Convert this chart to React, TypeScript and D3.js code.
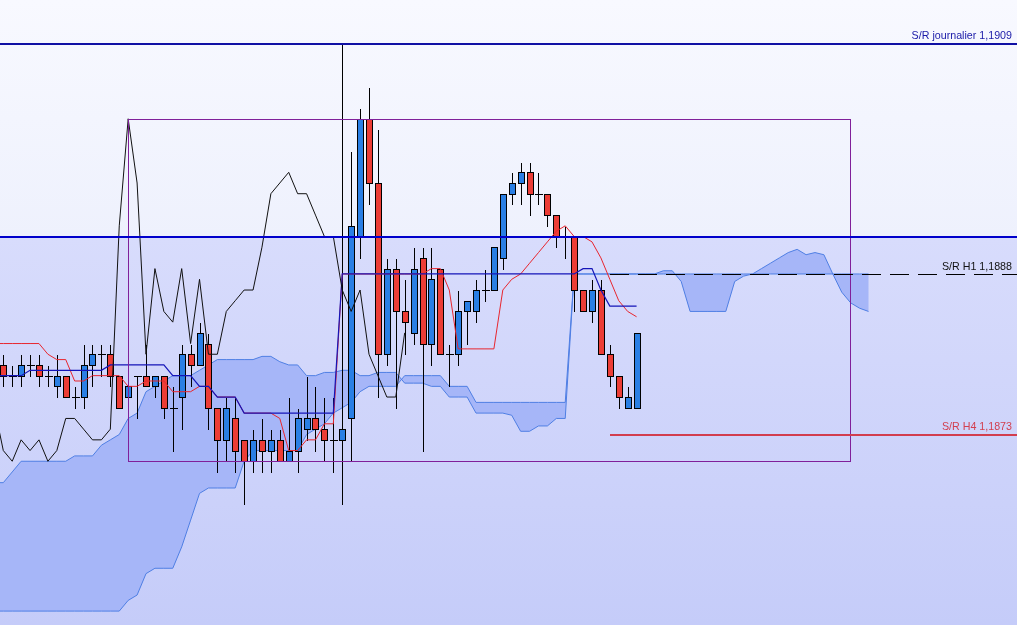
import { useMemo } from "react";
import * as d3 from "d3";

const W = 1017;
const H = 625;

// candles, bar 0..71
const opens = [
  1.1879, 1.1878, 1.1878, 1.1879, 1.1879, 1.1878, 1.1877, 1.1878, 1.1876, 1.1876,
  1.1879, 1.188, 1.188, 1.1878, 1.1876, 1.1878, 1.1878, 1.1877, 1.1878, 1.1875,
  1.1876, 1.188, 1.1879, 1.1881, 1.1875, 1.1872, 1.1874, 1.1872, 1.187, 1.1872,
  1.1871, 1.1872, 1.187, 1.1871, 1.1873, 1.1874, 1.1873, 1.1872, 1.1872, 1.1874,
  1.1891, 1.1902, 1.1896, 1.188, 1.1888, 1.1884, 1.1882, 1.1889, 1.1881, 1.1888,
  1.188, 1.188, 1.1884, 1.1884, 1.1886, 1.1886, 1.1889, 1.1895, 1.1896, 1.1897,
  1.1895, 1.1895, 1.1893, 1.1891, 1.1891, 1.1886, 1.1884, 1.1886, 1.188, 1.1878,
  1.1875, 1.1875,
];
const highs = [
  1.188, 1.1879, 1.188, 1.188, 1.188, 1.1879, 1.188, 1.1878, 1.1877, 1.1881,
  1.1881, 1.1881, 1.1881, 1.1878, 1.1877, 1.1878, 1.1881, 1.1878, 1.1878, 1.1877,
  1.1881, 1.1881, 1.1883, 1.1882, 1.1875, 1.1876, 1.1876, 1.1872, 1.1873, 1.1874,
  1.1873, 1.1873, 1.1876, 1.1875, 1.1878, 1.1877, 1.1876, 1.1876, 1.1909, 1.1899,
  1.1903, 1.1905, 1.1901, 1.1889, 1.1889, 1.1887, 1.189, 1.189, 1.189, 1.1888,
  1.1881, 1.1886, 1.1885, 1.1887, 1.1888, 1.189, 1.1895, 1.1897, 1.1898, 1.1898,
  1.1897, 1.1895, 1.1893, 1.1892, 1.1891, 1.1886, 1.1887, 1.1887, 1.1881, 1.1878,
  1.1877, 1.1882,
];
const lows = [
  1.1877, 1.1877, 1.1877, 1.1878, 1.1877, 1.1877, 1.1876, 1.1876, 1.1875, 1.1875,
  1.1877, 1.1878, 1.1877, 1.1875, 1.1876, 1.1874, 1.1877, 1.1876, 1.1874, 1.1871,
  1.1873, 1.1877, 1.1879, 1.1873, 1.1869, 1.187, 1.1869, 1.1866, 1.1869, 1.1869,
  1.1869, 1.187, 1.187, 1.1869, 1.1872, 1.1871, 1.187, 1.1869, 1.1866, 1.187,
  1.1889, 1.1894, 1.1876, 1.1879, 1.1875, 1.188, 1.1881, 1.1871, 1.1879, 1.188,
  1.1877, 1.1879, 1.1881, 1.1883, 1.1885, 1.1886, 1.1888, 1.1894, 1.1894, 1.1893,
  1.1894, 1.1892, 1.189, 1.1889, 1.1884, 1.1884, 1.1883, 1.188, 1.1877, 1.1875,
  1.1875, 1.1875,
];
const closes = [
  1.1878, 1.1878, 1.1879, 1.1879, 1.1878, 1.1878, 1.1878, 1.1876, 1.1876, 1.1879,
  1.188, 1.188, 1.1878, 1.1875, 1.1877, 1.1878, 1.1877, 1.1878, 1.1875, 1.1875,
  1.188, 1.1879, 1.1882, 1.1875, 1.1872, 1.1875, 1.1871, 1.187, 1.1872, 1.1871,
  1.1872, 1.187, 1.1871, 1.1874, 1.1874, 1.1873, 1.1872, 1.1872, 1.1873, 1.1892,
  1.1902, 1.1896, 1.188, 1.1888, 1.1884, 1.1883, 1.1888, 1.1881, 1.1887, 1.188,
  1.188, 1.1884, 1.1885, 1.1886, 1.1886, 1.189, 1.1895, 1.1896, 1.1897, 1.1895,
  1.1895, 1.1893, 1.1891, 1.1891, 1.1886, 1.1884, 1.1886, 1.188, 1.1878, 1.1876,
  1.1876, 1.1882,
];

// ichimoku lines; first value sits at bar -1 (left edge)
const lineStart = -1;
const tenkan = [
  1.1881,
  1.1881, 1.1881, 1.1881, 1.1881, 1.1881, 1.188, 1.18795, 1.18795, 1.18775, 1.18775,
  1.1878, 1.1878, 1.1878, 1.1878, 1.1877, 1.1877, 1.18775, 1.18775, 1.18775, 1.18765,
  1.18765, 1.18765, 1.1877, 1.1877, 1.1876, 1.1876, 1.1876, 1.18745, 1.18745, 1.18745,
  1.18745, 1.1874, 1.1871, 1.1871, 1.1872, 1.1872, 1.18735, 1.18735, 1.18875, 1.18875,
  1.18875, 1.18875, 1.18875, 1.18875, 1.18875, 1.18875, 1.18875, 1.18875, 1.1888, 1.1888,
  1.1886, 1.18805, 1.18805, 1.18805, 1.18805, 1.18805, 1.1886, 1.1887, 1.18875, 1.18885,
  1.18895, 1.18905, 1.18915, 1.1892, 1.1891, 1.1891, 1.18905, 1.1889, 1.1887, 1.1885,
  1.1884, 1.18835,
];
const kijun = [
  1.1878,
  1.1878, 1.1878, 1.1878, 1.18785, 1.18785, 1.18785, 1.18785, 1.18785, 1.18785, 1.18785,
  1.18785, 1.18785, 1.1879, 1.1879, 1.1879, 1.1879, 1.1879, 1.1879, 1.1879, 1.1878,
  1.1878, 1.1878, 1.1877, 1.1877, 1.1876, 1.1876, 1.1876, 1.18745, 1.18745, 1.18745,
  1.18745, 1.18745, 1.18745, 1.18745, 1.18745, 1.18745, 1.18745, 1.18745, 1.18875, 1.18875,
  1.18875, 1.18875, 1.18875, 1.18875, 1.18875, 1.18875, 1.18875, 1.18875, 1.18875, 1.18875,
  1.18875, 1.18875, 1.18875, 1.18875, 1.18875, 1.18875, 1.18875, 1.18875, 1.18875, 1.18875,
  1.18875, 1.18875, 1.18875, 1.18875, 1.18875, 1.1888, 1.1888, 1.1886, 1.18845, 1.18845,
  1.18845, 1.18845,
];
// cloud, bar -1..97 (runs 26 bars past the last candle)
const spanA = [
  1.1868,
  1.1868, 1.1869, 1.187, 1.187, 1.187, 1.187, 1.187, 1.187, 1.18705, 1.18705,
  1.18705, 1.18715, 1.1872, 1.18725, 1.1874, 1.18745, 1.18765, 1.1877, 1.18775, 1.1878,
  1.1878, 1.1878, 1.18785, 1.1879, 1.18795, 1.18795, 1.18795, 1.18795, 1.18795, 1.18798,
  1.18798, 1.18793, 1.1879, 1.1879, 1.1878, 1.1878, 1.18783, 1.18783, 1.18785, 1.18785,
  1.1878, 1.1878, 1.18783, 1.18783, 1.18783, 1.18773, 1.18773, 1.18773, 1.1877, 1.1877,
  1.1876, 1.1876, 1.1876, 1.18745, 1.18745, 1.18745, 1.18745, 1.18743, 1.18728, 1.18728,
  1.18733, 1.18733, 1.1874, 1.1874, 1.18875, 1.18875, 1.18875, 1.18875, 1.18875, 1.18875,
  1.18875, 1.18875, 1.18875, 1.18875, 1.18878, 1.18878, 1.18868, 1.1884, 1.1884, 1.1884,
  1.1884, 1.1884, 1.18868, 1.18873, 1.18875, 1.1888, 1.18885, 1.1889, 1.18895, 1.18898,
  1.18893, 1.18895, 1.18893, 1.18875, 1.18858, 1.18848, 1.18843, 1.1884,
];
const spanB = [
  1.1856,
  1.1856, 1.1856, 1.1856, 1.1856, 1.1856, 1.1856, 1.1856, 1.1856, 1.1856, 1.1856,
  1.1856, 1.1856, 1.1856, 1.1856, 1.1857, 1.18575, 1.18595, 1.186, 1.186, 1.186,
  1.1862, 1.18645, 1.1867, 1.18675, 1.18675, 1.18675, 1.18675, 1.187, 1.1871, 1.1871,
  1.1871, 1.1871, 1.1871, 1.1871, 1.18725, 1.1873, 1.18735, 1.18745, 1.1875, 1.18755,
  1.18765, 1.1877, 1.1877, 1.1877, 1.1877, 1.1878, 1.1878, 1.1878, 1.1878, 1.1878,
  1.1877, 1.1877, 1.1877, 1.18755, 1.18755, 1.18755, 1.18755, 1.18755, 1.18755, 1.18755,
  1.18755, 1.18755, 1.18755, 1.18755, 1.18875, 1.18875, 1.18875, 1.18875, 1.18875, 1.18875,
  1.18875, 1.18875, 1.18875, 1.18875, 1.18875, 1.18875, 1.18875, 1.18875, 1.18875, 1.18875,
  1.18875, 1.18875, 1.18875, 1.18875, 1.18875, 1.18875, 1.18875, 1.18875, 1.18875, 1.18875,
  1.18875, 1.18875, 1.18875, 1.18875, 1.18875, 1.18875, 1.18875, 1.18875,
];
const chikouLag = 26;

// drawn objects
const levelPrices = [1.1909, 1.1891, 1.18875, 1.18725];
const levelStarts = [null, null, 68, 68];
const levelLabels = ["S/R journalier 1,1909", "", "S/R H1 1,1888", "S/R H4 1,1873"];
const boxIndex = [14, 95];
const boxPrice = [1.187, 1.1902];

const BULL = "#2a7fe4";
const BEAR = "#ec3d36";
const levelStyle = [
  { stroke: "#1010a4", width: 2, dash: undefined, text: "#1a1aa8" },
  { stroke: "#0000cc", width: 2, dash: undefined, text: "#0000cc" },
  { stroke: "#000", width: 1, dash: "19 9", text: "#111" },
  { stroke: "#d23e4e", width: 2, dash: undefined, text: "#d23e4e" },
];

const snap = (v: number) => Math.round(v) + 0.5;

export default function App() {
  const x = d3.scaleLinear().domain([0, 97]).range([3.3, 868.5]);
  const y = d3.scaleLinear().domain([1.18547, 1.19131]).range([H, 0]);

  const { cloud, lineA, lineB, tenkanPath, kijunPath, chikouPath } = useMemo(() => {
    const idx = d3.range(spanA.length);
    const area = d3.area<number>()
      .x((i) => x(i + lineStart))
      .y0((i) => y(spanB[i]))
      .y1((i) => y(spanA[i]));
    const ln = (arr: number[]) =>
      d3.line<number>().x((i) => x(i + lineStart)).y((i) => y(arr[i]))(d3.range(arr.length)) ?? "";
    const chikouIdx = d3.range(chikouLag - 1, closes.length);
    const chikou = d3.line<number>()
      .x((i) => x(i - chikouLag))
      .y((i) => y(closes[i]))(chikouIdx) ?? "";
    return {
      cloud: area(idx) ?? "",
      lineA: ln(spanA),
      lineB: ln(spanB),
      tenkanPath: ln(tenkan),
      kijunPath: ln(kijun),
      chikouPath: chikou,
    };
  }, []);

  const splitY = y(levelPrices[1]);
  const bw = 6;

  return (
    <svg
      width={W}
      height={H}
      viewBox={`0 0 ${W} ${H}`}
      style={{ position: "fixed", left: 0, top: 0, display: "block" }}
      fontFamily="'Liberation Sans', Arial, sans-serif"
    >
      <defs>
        <linearGradient id="bgTop" x1="0" y1="0" x2="0" y2="1">
          <stop offset="0" stopColor="#f8f9ff" />
          <stop offset="1" stopColor="#eef1fd" />
        </linearGradient>
        <linearGradient id="bgLow" x1="0" y1="0" x2="0" y2="1">
          <stop offset="0" stopColor="#d8dcfc" />
          <stop offset="1" stopColor="#c5ccf9" />
        </linearGradient>
        <clipPath id="plot">
          <rect x={0} y={0} width={W} height={H} />
        </clipPath>
      </defs>
      <rect x={0} y={0} width={W} height={splitY} fill="url(#bgTop)" />
      <rect x={0} y={splitY} width={W} height={H - splitY} fill="url(#bgLow)" />

      <g clipPath="url(#plot)">
        {/* kumo */}
        <path d={cloud} fill="#a6b6f8" />
        <path d={lineA} fill="none" stroke="#4f7fe4" strokeWidth={1} />
        <path d={lineB} fill="none" stroke="#4f7fe4" strokeWidth={1} />

        {/* candles */}
        <g shapeRendering="crispEdges">
          {opens.map((o, i) => {
            const c = closes[i];
            const cx = snap(x(i));
            const top = snap(y(Math.max(o, c)));
            const bot = snap(y(Math.min(o, c)));
            return (
              <g key={i}>
                <line x1={cx} x2={cx} y1={snap(y(highs[i]))} y2={snap(y(lows[i]))} stroke="#000" strokeWidth={1} />
                {o === c ? (
                  <line x1={cx - bw / 2 - 1} x2={cx + bw / 2 + 1} y1={top} y2={top} stroke="#000" strokeWidth={1} />
                ) : (
                  <rect
                    x={cx - bw / 2}
                    y={top}
                    width={bw}
                    height={bot - top}
                    fill={c > o ? BULL : BEAR}
                    stroke="#000"
                    strokeWidth={1}
                  />
                )}
              </g>
            );
          })}
        </g>

        <path d={tenkanPath} fill="none" stroke="#e8262e" strokeWidth={1} />
        <path d={kijunPath} fill="none" stroke="#1515b8" strokeWidth={1.2} />
        <path d={chikouPath} fill="none" stroke="#111" strokeWidth={1} />

        {/* range box */}
        <rect
          x={snap(x(boxIndex[0]))}
          y={snap(y(boxPrice[1]))}
          width={Math.round(x(boxIndex[1]) - x(boxIndex[0]))}
          height={Math.round(y(boxPrice[0]) - y(boxPrice[1]))}
          fill="none"
          stroke="#80209a"
          strokeWidth={1}
          shapeRendering="crispEdges"
        />

        {/* S/R levels */}
        {levelPrices.map((p, k) => {
          const st = levelStyle[k];
          const x0 = levelStarts[k] == null ? 0 : x(levelStarts[k] as number);
          const ly = st.width % 2 === 1 ? snap(y(p)) : Math.round(y(p));
          return (
            <g key={k}>
              <line
                x1={x0}
                x2={W}
                y1={ly}
                y2={ly}
                stroke={st.stroke}
                strokeWidth={st.width}
                strokeDasharray={st.dash}
                shapeRendering="crispEdges"
              />
              {levelLabels[k] && (
                <text x={1012} y={ly - 5} textAnchor="end" fontSize={10.7} fill={st.text}>
                  {levelLabels[k]}
                </text>
              )}
            </g>
          );
        })}
      </g>
    </svg>
  );
}
